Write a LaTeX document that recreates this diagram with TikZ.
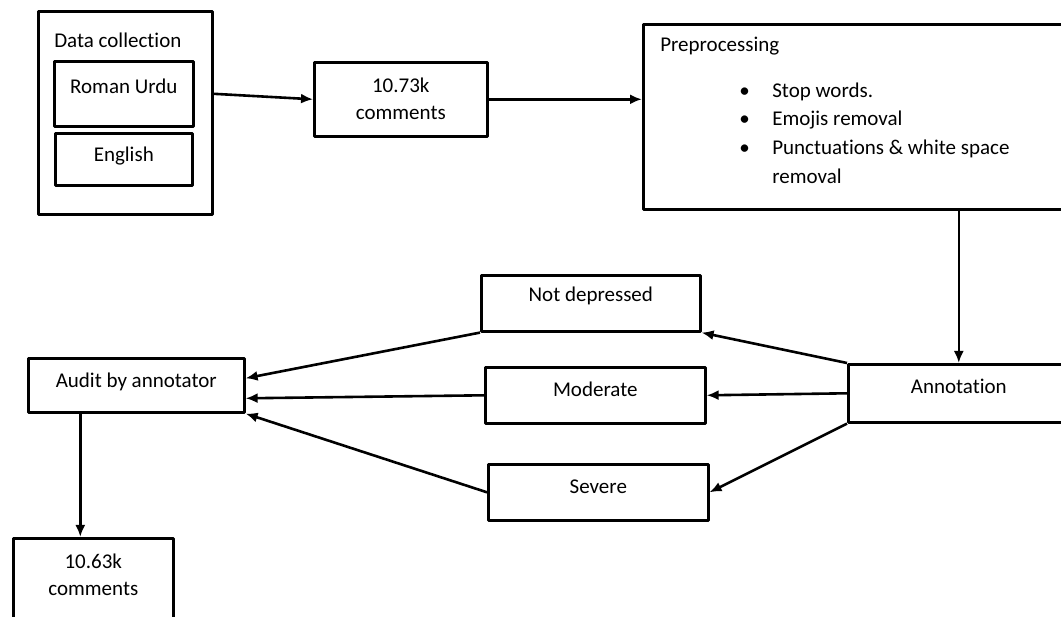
\documentclass[tikz,border=0pt]{standalone}
\usepackage{fontspec}
\setmainfont{Carlito}[Ligatures={NoCommon}]
\usetikzlibrary{arrows.meta}
\tikzset{bx/.style={draw,line width=2.6pt,inner sep=0pt,align=center}}
\tikzset{tx/.style={font=\fontsize{21}{27}\selectfont}}
\begin{document}
\begin{tikzpicture}[x=1pt,y=-1pt,line join=round,>={Latex[length=12pt,width=10pt]}]
            \useasboundingbox (0,0) rectangle (1061,617);
            \clip (0,0) rectangle (1061,617);
            \begin{scope}[tx]
              \node[bx,anchor=north west,align=flush left,text width=142pt,inner xsep=16pt,text height=36pt,text depth=167pt] (dc) at (37,10) {Data collection};
              \node[bx,anchor=north west,minimum width=139pt,text height=32pt,text depth=33pt] (ru) at (53,60) {Roman Urdu};
              \node[bx,anchor=north west,minimum width=137pt,text height=28pt,text depth=24pt] (en) at (54,132) {English};
              \node[bx,anchor=north west,minimum width=173pt,text height=57pt,text depth=17pt] (ca) at (313,61) {10.73k\\comments};
              \node[bx,anchor=north west,align=flush left,text width=399pt,inner xsep=17pt,text height=27pt,text depth=158pt,font=\fontsize{21}{28.7}\selectfont] (pre) at (642,23)
                {Preprocessing\\[17.3pt]
                 \hspace*{79pt}\makebox[33pt][l]{\textbullet}Stop words.\\
                 \hspace*{79pt}\makebox[33pt][l]{\textbullet}Emojis removal\\
                 \hspace*{79pt}\makebox[33pt][l]{\textbullet}Punctuations \& white space\\
                 \hspace*{112pt}removal};
              \node[bx,anchor=north west,minimum width=221pt,text height=29pt,text depth=29pt] (ann) at (847,363) {Annotation};
              \node[bx,anchor=north west,minimum width=219pt,text height=26pt,text depth=30pt] (nd) at (480,274) {Not depressed};
              \node[bx,anchor=north west,minimum width=220pt,text height=29pt,text depth=27pt] (mod) at (484,366) {Moderate};
              \node[bx,anchor=north west,minimum width=220pt,text height=29pt,text depth=27pt] (sev) at (487,463) {Severe};
              \node[bx,anchor=north west,minimum width=216pt,text height=29pt,text depth=25pt] (aud) at (27,357) {Audit by annotator};
              \node[bx,anchor=north west,minimum width=160pt,text height=57pt,text depth=38pt] (cb) at (12,537) {10.63k\\comments};
            \end{scope}
            \begin{scope}[line width=2.6pt]
              \draw[->] (dc.east |- ru) -- (ca.west);
              \draw[->] (ca.east) -- (ca.east -| pre.west);
              \draw[->] (ann.north |- pre.south) -- (ann.north);
              \draw[->] (ann.north west) -- (nd.south east);
              \draw[->] (ann.west) -- (mod.east);
              \draw[->] (ann.south west) -- (sev.east);
              \draw[->] (nd.south west) -- ([yshift=7pt]aud.east);
              \draw[->] (mod.west) -- ([yshift=-13pt]aud.east);
              \draw[->] (sev.west) -- (aud.south east);
              \draw[->] ([xshift=-56pt]aud.south) -- ([xshift=-13pt]cb.north);
            \end{scope}
          \end{tikzpicture}
\end{document}
